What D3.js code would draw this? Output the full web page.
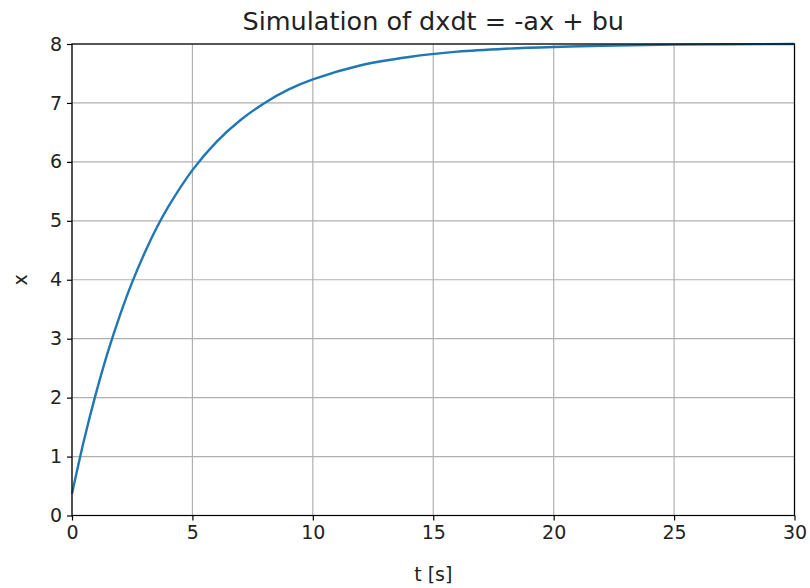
<!DOCTYPE html>
<html>
<head>
<meta charset="utf-8">
<script src="https://cdn.jsdelivr.net/npm/d3@7"></script>
<style>
  body { margin: 0; background: #fff; }
  svg { display: block; font-family: "DejaVu Sans", sans-serif; }
</style>
</head>
<body>
<svg id="chart" width="810" height="588"></svg>
<script>
// Data
const timeValues = [0, 0.5, 1, 1.5, 2, 2.5, 3, 3.5, 4, 5, 6, 7, 8, 9, 10, 12, 14, 16, 18, 20, 22, 25, 30];
const stateValues = [0.37, 1.28, 2.08, 2.79, 3.41, 3.96, 4.44, 4.87, 5.24, 5.86, 6.34, 6.71, 7.00, 7.23, 7.40, 7.64, 7.78, 7.87, 7.92, 7.95, 7.97, 7.99, 8.0];
const xTicks = [0, 5, 10, 15, 20, 25, 30];
const yTicks = [0, 1, 2, 3, 4, 5, 6, 7, 8];
const titleText = "Simulation of dxdt = -ax + bu";
const xLabel = "t [s]";
const yLabel = "x";

const svg = d3.select("#chart");
const W = 810, H = 588;
const m = { left: 72, right: W - 794.5, top: 44, bottom: H - 515.5 };

const x = d3.scaleLinear().domain([0, 30]).range([m.left, W - m.right]);
const y = d3.scaleLinear().domain([0, 8]).range([H - m.bottom, m.top]);

// grid
const grid = svg.append("g");
grid.selectAll("line.gx").data(xTicks).join("line")
  .attr("x1", d => x(d)).attr("x2", d => x(d))
  .attr("y1", y(0)).attr("y2", y(8))
  .attr("stroke", "#b0b0b0").attr("stroke-width", 1.2);
grid.selectAll("line.gy").data(yTicks).join("line")
  .attr("y1", d => y(d)).attr("y2", d => y(d))
  .attr("x1", x(0)).attr("x2", x(30))
  .attr("stroke", "#b0b0b0").attr("stroke-width", 1.2);

// line
const data = timeValues.map((t, i) => ({ t, v: stateValues[i] }));
const line = d3.line().x(d => x(d.t)).y(d => y(d.v)).curve(d3.curveCatmullRom.alpha(0.5));
svg.append("path").datum(data)
  .attr("d", line)
  .attr("fill", "none")
  .attr("stroke", "#1f77b4")
  .attr("stroke-width", 2.4);

// spines
svg.append("rect")
  .attr("x", x(0)).attr("y", y(8))
  .attr("width", x(30) - x(0)).attr("height", y(0) - y(8))
  .attr("fill", "none").attr("stroke", "#000").attr("stroke-width", 1.2);

// axes
const xAxis = d3.axisBottom(x).tickValues(xTicks).tickSize(5).tickPadding(5).tickFormat(d3.format("d"));
const yAxis = d3.axisLeft(y).tickValues(yTicks).tickSize(5).tickPadding(5).tickFormat(d3.format("d"));

const gx = svg.append("g").attr("transform", `translate(0,${y(0)})`).call(xAxis);
const gy = svg.append("g").attr("transform", `translate(${x(0)},0)`).call(yAxis);
[gx, gy].forEach(g => {
  g.select(".domain").remove();
  g.selectAll(".tick line").attr("stroke", "#000").attr("stroke-width", 1.2);
  g.selectAll(".tick text").attr("fill", "#222").style("font-size", "19px").style("font-family", "DejaVu Sans");
});

// title & labels
svg.append("text")
  .attr("x", (x(0) + x(30)) / 2).attr("y", 30)
  .attr("text-anchor", "middle")
  .style("font-size", "25.5px").attr("fill", "#222")
  .text(titleText);

svg.append("text")
  .attr("x", (x(0) + x(30)) / 2).attr("y", 581)
  .attr("text-anchor", "middle")
  .style("font-size", "19px").attr("fill", "#222")
  .text(xLabel);

svg.append("text")
  .attr("transform", `translate(27,${(y(0) + y(8)) / 2}) rotate(-90)`)
  .attr("text-anchor", "middle")
  .style("font-size", "19px").attr("fill", "#222")
  .text(yLabel);
</script>
</body>
</html>
